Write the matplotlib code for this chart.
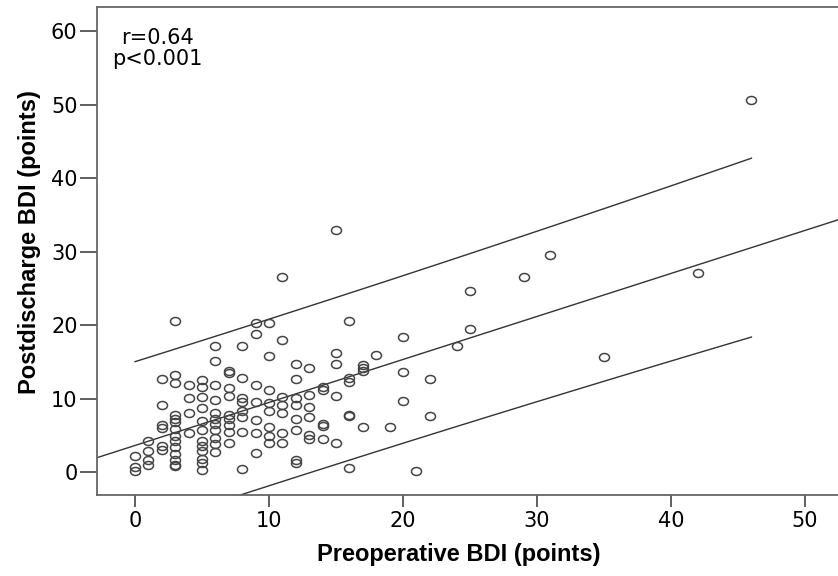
import numpy as np
import matplotlib
matplotlib.use('Agg')
import matplotlib.pyplot as plt
from matplotlib.path import Path
from matplotlib.transforms import Affine2D

# preoperative BDI -> list of postdischarge BDI values
pre_bdi = {
    0: [2.2, 0.7, 0.2],
    1: [4.2, 2.8, 1.6, 1.0],
    2: [12.6, 9.1, 6.4, 6.0, 3.5, 3.0],
    3: [20.5, 13.2, 12.1, 7.8, 7.2, 6.8, 5.9, 4.9, 4.2, 3.4, 2.4, 1.6, 1.0, 0.8],
    4: [11.8, 10.1, 8.0, 5.3],
    5: [12.5, 11.6, 10.2, 8.7, 7.0, 5.7, 4.2, 3.5, 2.9, 1.8, 1.2, 0.3],
    6: [17.1, 15.1, 11.8, 9.8, 8.0, 7.2, 6.5, 5.7, 4.6, 3.8, 2.7],
    7: [13.7, 13.5, 11.4, 10.3, 7.8, 7.2, 6.4, 5.5, 3.9],
    8: [17.1, 12.8, 10.1, 9.5, 8.3, 7.5, 5.4, 0.4],
    9: [20.3, 18.8, 11.8, 9.5, 7.1, 5.3, 2.6],
    10: [20.3, 15.8, 11.2, 9.4, 8.3, 6.1, 4.9, 4.0],
    11: [26.5, 18.0, 10.2, 9.1, 8.0, 5.3, 4.0],
    12: [14.7, 12.6, 10.1, 9.1, 7.2, 5.7, 1.6, 1.2],
    13: [14.1, 10.5, 8.9, 7.5, 5.0, 4.5],
    14: [11.6, 11.2, 6.6, 6.3, 4.5],
    15: [32.9, 16.2, 14.7, 10.3, 4.0],
    16: [20.6, 12.8, 12.2, 7.8, 7.6, 0.5],
    17: [14.6, 14.1, 13.7, 6.1],
    18: [15.9],
    19: [6.1],
    20: [18.4, 13.6, 9.6],
    21: [0.1],
    22: [12.7, 7.6],
    24: [17.1],
    25: [24.7, 19.4],
    29: [26.5],
    31: [29.5],
    35: [15.6],
    42: [27.1],
    46: [50.6],
}
x = np.array([k for k, v in pre_bdi.items() for _ in v], dtype=float)
y = np.array([val for v in pre_bdi.values() for val in v])

annot = 'r=0.64\np<0.001'
xticks = [0, 10, 20, 30, 40, 50]
yticks = [0, 10, 20, 30, 40, 50, 60]

# linear fit + 95% prediction interval
n = len(x)
slope, icept = np.polyfit(x, y, 1)
resid = y - (icept + slope * x)
s = np.sqrt((resid ** 2).sum() / (n - 2))
sxx = ((x - x.mean()) ** 2).sum()
t95 = 1.977

fig = plt.figure(figsize=(8.38, 5.76), dpi=100)
ax = fig.add_axes([97/838, 81/576, 741/838, 488/576])
xlim = (-2.84, 52.46)
ax.set_xlim(xlim)
ax.set_ylim(-3.13, 63.3)

ell = Path.unit_circle().transformed(Affine2D().scale(1.0, 0.8))
ax.plot(x, y, linestyle='none', marker=ell, markersize=7.2, mfc='none',
        mec='#444444', mew=1.1, zorder=3)

xf = np.linspace(xlim[0], xlim[1], 50)
ax.plot(xf, icept + slope * xf, color='#333333', lw=1.0)
xp = np.linspace(x.min(), x.max(), 100)
half = t95 * s * np.sqrt(1 + 1/n + (xp - x.mean()) ** 2 / sxx)
ax.plot(xp, icept + slope * xp + half, color='#333333', lw=1.0)
ax.plot(xp, icept + slope * xp - half, color='#333333', lw=1.0)

for side in ['left', 'bottom', 'top']:
    ax.spines[side].set_color('#666666')
    ax.spines[side].set_linewidth(1.3)
ax.spines['right'].set_visible(False)
ax.set_xticks(xticks)
ax.set_yticks(yticks)
ax.tick_params(axis='y', length=12, width=1.2, color='#444444', pad=2, labelsize=15)
ax.tick_params(axis='x', length=8.5, width=1.2, color='#444444', pad=3, labelsize=15)

ax.text(0.081, 0.957, annot, transform=ax.transAxes, ha='center', va='top',
        multialignment='center', fontsize=15, linespacing=1.05)

fig.text(459/838, 1 - 555/576, 'Preoperative BDI (points)', ha='center', va='center',
         fontsize=17, fontweight='bold', family='Liberation Sans')
fig.text(30/838, 1 - 242/576, 'Postdischarge BDI (points)', ha='center', va='center',
         rotation=90, fontsize=17, fontweight='bold', family='Liberation Sans')

fig.savefig('out.png', dpi=100)
